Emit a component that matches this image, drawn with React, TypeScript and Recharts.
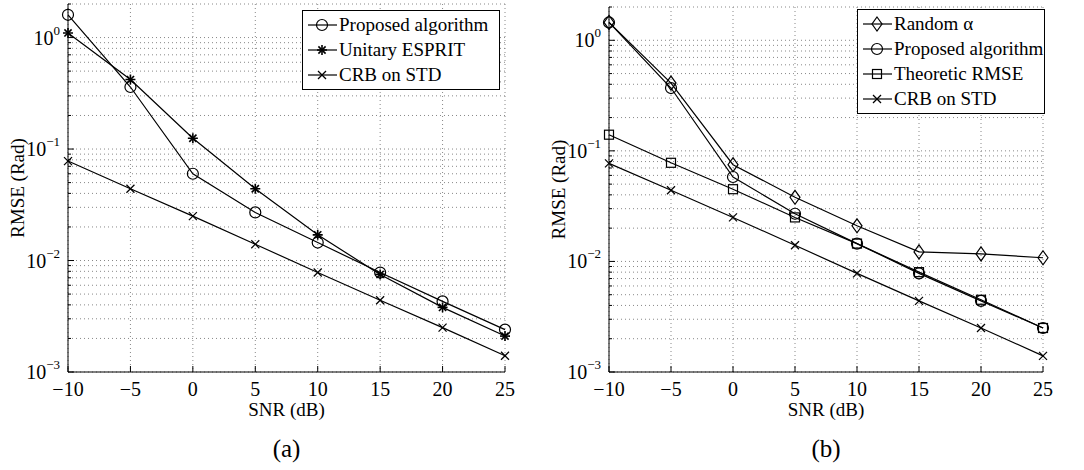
import React from 'react';
import { LineChart, Line, XAxis, YAxis, CartesianGrid } from 'recharts';

const snr = [-10, -5, 0, 5, 10, 15, 20, 25];
const xTicks = [-10, -5, 0, 5, 10, 15, 20, 25];
const decades = [0.001, 0.01, 0.1, 1];
const minorSteps = [1, 2, 3, 4, 5, 6, 7, 8, 9];

// panel (a)
const aProposed = [1.6, 0.36, 0.06, 0.027, 0.0145, 0.0078, 0.0043, 0.0024];
const aEsprit = [1.1, 0.42, 0.125, 0.044, 0.017, 0.0075, 0.0038, 0.0021];
const aCrb = [0.078, 0.044, 0.025, 0.014, 0.0078, 0.0044, 0.0025, 0.0014];

// panel (b)
const bRandom = [1.45, 0.41, 0.075, 0.038, 0.021, 0.0122, 0.0117, 0.0108];
const bProposed = [1.45, 0.37, 0.058, 0.027, 0.0145, 0.0078, 0.0044, 0.0025];
const bTheory = [0.14, 0.078, 0.045, 0.025, 0.0145, 0.008, 0.0045, 0.0025];
const bCrb = [0.077, 0.044, 0.025, 0.014, 0.0078, 0.0044, 0.0025, 0.0014];

const FONT = '"Liberation Serif", "Times New Roman", serif';

const yTicks = decades
  .flatMap((d) => minorSteps.map((m) => +(d * m).toPrecision(3)))
  .filter((v) => v <= 2);

const dataA = snr.map((x, i) => ({ x, proposed: aProposed[i], esprit: aEsprit[i], crb: aCrb[i] }));
const dataB = snr.map((x, i) => ({ x, random: bRandom[i], proposed: bProposed[i], theory: bTheory[i], crb: bCrb[i] }));

type Kind = 'circle' | 'star' | 'cross' | 'diamond' | 'square';

function Marker({ cx, cy, kind }: { cx: number; cy: number; kind: Kind }) {
  const s = { stroke: '#000', strokeWidth: 1.2, fill: 'none' };
  if (kind === 'circle') return <circle cx={cx} cy={cy} r={5.5} {...s} />;
  if (kind === 'square') return <rect x={cx - 4.5} y={cy - 4.5} width={9} height={9} {...s} />;
  if (kind === 'diamond')
    return <polygon points={`${cx},${cy - 7} ${cx + 5},${cy} ${cx},${cy + 7} ${cx - 5},${cy}`} {...s} />;
  if (kind === 'cross')
    return (
      <g {...s}>
        <line x1={cx - 4} y1={cy - 4} x2={cx + 4} y2={cy + 4} />
        <line x1={cx - 4} y1={cy + 4} x2={cx + 4} y2={cy - 4} />
      </g>
    );
  return (
    <g {...s} strokeWidth={1.6}>
      <line x1={cx - 5} y1={cy} x2={cx + 5} y2={cy} />
      <line x1={cx} y1={cy - 5} x2={cx} y2={cy + 5} />
      <line x1={cx - 3.6} y1={cy - 3.6} x2={cx + 3.6} y2={cy + 3.6} />
      <line x1={cx - 3.6} y1={cy + 3.6} x2={cx + 3.6} y2={cy - 3.6} />
    </g>
  );
}

const dotOf = (kind: Kind) => (p: any) => <Marker key={`${kind}-${p.index}`} cx={p.cx} cy={p.cy} kind={kind} />;

const isDecade = (v: number) => {
  const e = Math.round(Math.log10(v));
  return Math.abs(v - Math.pow(10, e)) < 1e-9;
};

function YTick({ x, y, payload }: any) {
  const v = payload.value;
  const ax = x + 8;
  const major = isDecade(v);
  const e = Math.round(Math.log10(v));
  return (
    <g>
      <line x1={ax} y1={y} x2={ax + (major ? 6 : 3)} y2={y} stroke="#000" strokeWidth={1} />
      {major && (
        <text x={x} y={y} textAnchor="end" fontFamily={FONT} fontSize={20} dominantBaseline="central" fill="#000">
          <tspan>10</tspan>
          <tspan dy={-8} fontSize={13}>{e < 0 ? `−${-e}` : `${e}`}</tspan>
        </text>
      )}
    </g>
  );
}

function YTickRight({ x, y, payload }: any) {
  const major = isDecade(payload.value);
  return <line x1={x} y1={y} x2={x - (major ? 6 : 3)} y2={y} stroke="#000" strokeWidth={1} />;
}

function XTick({ x, y, payload }: any) {
  const v = payload.value;
  return (
    <g>
      <line x1={x} y1={y} x2={x} y2={y - 6} stroke="#000" strokeWidth={1} />
      <text x={x} y={y + 17} textAnchor="middle" fontFamily={FONT} fontSize={20} dominantBaseline="central" fill="#000">
        {v < 0 ? `−${-v}` : `${v}`}
      </text>
    </g>
  );
}

function XTickTop({ x, y }: any) {
  return <line x1={x} y1={y} x2={x} y2={y + 6} stroke="#000" strokeWidth={1} />;
}

const yLabel = (props: any) => {
  const vb = props.viewBox;
  const cx = vb.x + 9;
  const cy = vb.y + vb.height / 2;
  return (
    <text x={cx} y={cy} transform={`rotate(-90 ${cx} ${cy})`} textAnchor="middle" dominantBaseline="central" fontFamily={FONT} fontSize={19} fill="#000">
      RMSE (Rad)
    </text>
  );
};

const xLabel = (tag: string) => (props: any) => {
  const vb = props.viewBox;
  const cx = vb.x + vb.width / 2;
  return (
    <g>
      <text x={cx} y={vb.y + 37} textAnchor="middle" dominantBaseline="central" fontFamily={FONT} fontSize={19} fill="#000">
        SNR (dB)
      </text>
      <text x={cx} y={vb.y + 76} textAnchor="middle" dominantBaseline="central" fontFamily={FONT} fontSize={25} fill="#000">
        {tag}
      </text>
    </g>
  );
};

interface LegendItem {
  label: string;
  kind: Kind;
}

function LegendBox({ items, left, top, width }: { items: LegendItem[]; left: number; top: number; width: number }) {
  return (
    <div
      style={{
        position: 'absolute',
        left,
        top,
        width,
        border: '1px solid #000',
        background: '#fff',
        padding: '1px 0 2px 0',
        fontFamily: FONT,
        fontSize: 19,
        lineHeight: '25px',
        color: '#000',
      }}
    >
      {items.map((it) => (
        <div key={it.label} style={{ display: 'flex', alignItems: 'center', height: 25 }}>
          <svg width={36} height={20} style={{ flex: 'none' }}>
            <line x1={5} y1={10} x2={34} y2={10} stroke="#000" strokeWidth={1.2} />
            <Marker cx={19} cy={10} kind={it.kind} />
          </svg>
          <span style={{ whiteSpace: 'nowrap' }}>{it.label}</span>
        </div>
      ))}
    </div>
  );
}

const legendA: LegendItem[] = [
  { label: 'Proposed algorithm', kind: 'circle' },
  { label: 'Unitary ESPRIT', kind: 'star' },
  { label: 'CRB on STD', kind: 'cross' },
];

const legendB: LegendItem[] = [
  { label: 'Random α', kind: 'diamond' },
  { label: 'Proposed algorithm', kind: 'circle' },
  { label: 'Theoretic RMSE', kind: 'square' },
  { label: 'CRB on STD', kind: 'cross' },
];

function frame() {
  return [
    <XAxis key="top" xAxisId="top" orientation="top" dataKey="x" type="number" domain={[-10, 25]} ticks={xTicks} interval={0} height={0} tickSize={0} tickMargin={0} tick={XTickTop} axisLine={{ stroke: '#000' }} />,
    <YAxis key="right" yAxisId="right" orientation="right" scale="log" domain={[0.001, 2]} ticks={yTicks} interval={0} allowDataOverflow width={0} tickSize={0} tickMargin={0} tick={YTickRight} axisLine={{ stroke: '#000' }} />,
  ];
}

export default function App() {
  const line = { stroke: '#000', strokeWidth: 1.2, isAnimationActive: false, type: 'linear' as const };
  return (
    <div style={{ position: 'absolute', left: 0, top: 0, width: 1084, height: 470, background: '#fff' }}>
      <div style={{ position: 'absolute', left: 0, top: 0, width: 540, height: 470 }}>
        <LineChart width={540} height={470} data={dataA} margin={{ top: 4, right: 35, bottom: 0, left: 8 }}>
          <CartesianGrid stroke="#888" strokeDasharray="1 3" />
          <XAxis dataKey="x" type="number" domain={[-10, 25]} ticks={xTicks} interval={0} height={98} tickSize={0} tickMargin={0} tick={XTick} axisLine={{ stroke: '#000' }} label={xLabel('(a)')} />
          <YAxis scale="log" domain={[0.001, 2]} ticks={yTicks} interval={0} allowDataOverflow width={60} tickSize={0} tickMargin={8} tick={YTick} axisLine={{ stroke: '#000' }} label={yLabel} />
          {frame()}
          <Line dataKey="proposed" {...line} dot={dotOf('circle')} />
          <Line dataKey="esprit" {...line} dot={dotOf('star')} />
          <Line dataKey="crb" {...line} dot={dotOf('cross')} />
        </LineChart>
        <LegendBox items={legendA} left={302} top={10} width={196} />
      </div>
      <div style={{ position: 'absolute', left: 540, top: 0, width: 544, height: 470 }}>
        <LineChart width={544} height={470} data={dataB} margin={{ top: 7, right: 41, bottom: 0, left: 9 }}>
          <CartesianGrid stroke="#888" strokeDasharray="1 3" />
          <XAxis dataKey="x" type="number" domain={[-10, 25]} ticks={xTicks} interval={0} height={98} tickSize={0} tickMargin={0} tick={XTick} axisLine={{ stroke: '#000' }} label={xLabel('(b)')} />
          <YAxis scale="log" domain={[0.001, 2]} ticks={yTicks} interval={0} allowDataOverflow width={60} tickSize={0} tickMargin={8} tick={YTick} axisLine={{ stroke: '#000' }} label={yLabel} />
          {frame()}
          <Line dataKey="random" {...line} dot={dotOf('diamond')} />
          <Line dataKey="proposed" {...line} dot={dotOf('circle')} />
          <Line dataKey="theory" {...line} dot={dotOf('square')} />
          <Line dataKey="crb" {...line} dot={dotOf('cross')} />
        </LineChart>
        <LegendBox items={legendB} left={317} top={9} width={186} />
      </div>
    </div>
  );
}
